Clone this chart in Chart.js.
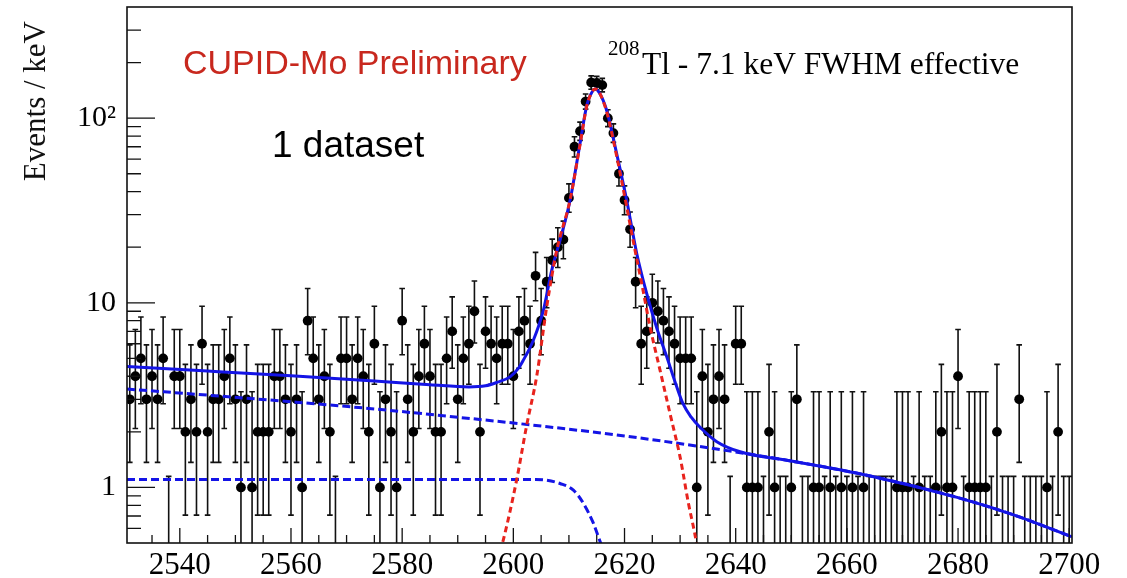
<!DOCTYPE html>
<html>
<head>
<meta charset="utf-8">
<script src="https://cdn.jsdelivr.net/npm/chart.js@4.4.1/dist/chart.umd.min.js"></script>
<style>
  html, body { margin: 0; padding: 0; background: #ffffff; }
  #wrap { width: 1127px; height: 578px; position: relative; }
  canvas { display: block; }
</style>
</head>
<body>
<div id="wrap"><canvas id="spectrum" width="1127" height="578"></canvas></div>
<script>
// 1 keV bins, centres 2531 ... 2700 keV
const firstBinCentre = 2531;

// Events per 1 keV bin
const counts = [
  3, 4, 5, 3, 4, 3, 5, 0, 4, 4,   2, 3, 2, 6, 2, 3, 3, 4, 5, 3,
  1, 3, 1, 2, 2, 2, 4, 4, 3, 2,   3, 1, 8, 5, 3, 4, 2, 0, 5, 5,
  3, 5, 4, 2,
  6, 1, 3, 2, 1, 8, 3, 2, 4, 6,   4, 2, 2, 5, 7, 3, 5, 6, 9, 2,
  7, 6, 5, 6, 6, 4, 7, 8, 6, 14,  8, 13, 17,
  20, 22, 37, 70, 85, 123, 156, 155, 151, 100, 83, 50, 36, 25, 13,
  6, 7, 10, 9, 8, 7, 6, 5, 5, 5,  1, 4, 2, 3, 4, 3, 0, 6, 6,
  1, 1, 1, 0, 2, 1, 0, 0, 1, 3,   0, 0, 1, 1, 0, 1, 0, 1, 0, 1,
  0, 1,
  0, 0, 0, 0, 0, 1, 1, 1, 0, 1,   0, 0, 1, 2, 1, 1, 4, 0, 1, 1,
  1, 1, 0, 2, 0, 0, 0, 3, 0, 0,   0, 0, 1, 0, 2, 0, 0
];

// Fit: total model (signal + background)
const totalE = [2530.5, 2545, 2560, 2575, 2585, 2592, 2595, 2597, 2599.4, 2601, 2601.8, 2603.6,
  2605.4, 2606.9, 2608.4, 2610.2, 2612, 2613.2, 2613.9, 2614.7, 2615.5, 2616.8, 2618.6, 2620.4,
  2622.2, 2624, 2625.8, 2627.6, 2629, 2630.5, 2632, 2633.5, 2636.6, 2640.8, 2650, 2665, 2680, 2690, 2700.5];
const totalY = [4.52, 4.27, 4.02, 3.77, 3.60, 3.50, 3.55, 3.70, 3.97, 4.45, 4.89, 6.27,
  9.1, 15, 21.8, 35.8, 73, 117, 134, 144, 137, 110, 64, 35.8,
  18.5, 11.2, 7.3, 5.1, 3.8, 2.85, 2.4, 2.13, 1.77, 1.56, 1.39, 1.14, 0.88, 0.71, 0.54];

// Fit: 208Tl photopeak component
const peakE = [2597.6, 2598.2, 2600.6, 2602.4, 2604.2, 2606, 2607.8, 2610.2, 2612, 2613.2, 2613.9,
  2614.7, 2615.5, 2616.8, 2618.6, 2620.4, 2621.9, 2623.1, 2624.6, 2626.4, 2628.2, 2630, 2631.5,
  2632.7, 2633.2];
const peakY = [0.45, 0.52, 1.1, 2.17, 4.0, 9.5, 19.2, 36, 72, 116, 134,
  144, 137, 108, 62, 33, 19.2, 12.7, 7.4, 4.3, 2.5, 1.46, 0.82,
  0.55, 0.45];

// Fit: linear continuum
const linearE = [2530.5, 2545, 2560, 2575, 2590, 2605, 2620, 2635, 2650, 2665, 2680, 2690, 2700.5];
const linearY = [3.41, 3.16, 2.91, 2.66, 2.40, 2.15, 1.90, 1.64, 1.39, 1.14, 0.88, 0.71, 0.54];

// Fit: step below the peak
const stepE = [2530.5, 2570, 2604, 2606, 2608.4, 2610.8, 2612.6, 2614.4, 2615.3, 2615.7, 2616.1];
const stepY = [1.105, 1.105, 1.105, 1.095, 1.05, 0.967, 0.82, 0.64, 0.54, 0.5, 0.46];

// Axis ticks
const xMajorTicks = [2540, 2560, 2580, 2600, 2620, 2640, 2660, 2680, 2700];
const xMinorTicks = [2535, 2545, 2550, 2555, 2565, 2570, 2575, 2585, 2590, 2595, 2605, 2610, 2615,
  2625, 2630, 2635, 2645, 2650, 2655, 2665, 2670, 2675, 2685, 2690, 2695];
const yMajorTicks = [1, 10, 100];
const yMajorLabels = ['1', '10', '10\u00B2'];
const yMinorTicks = [0.6, 0.7, 0.8, 0.9, 2, 3, 4, 5, 6, 7, 8, 9, 20, 30, 40, 50, 60, 70, 80, 90, 200, 300];

// Poisson (Garwood 68%) intervals for small counts; zero bins get a one-sided upper limit
const poissonLow  = [0, 0.173, 0.708, 1.367, 2.086, 2.840, 3.620, 4.418, 5.231, 6.055, 6.887];
const poissonHigh = [1.148, 3.300, 4.638, 5.918, 7.163, 8.382, 9.584, 10.771, 11.946, 13.112, 14.270];
function poissonInterval(n) {
  if (n < poissonLow.length) return [poissonLow[n], poissonHigh[n]];
  const s = Math.sqrt(n);
  return [n - s, n + s + 1];
}

const pairs = (xs, ys) => xs.map((v, i) => ({ x: v, y: ys[i] }));
const dataPoints = counts.map((n, i) => ({ x: firstBinCentre + i, y: n > 0 ? n : null }));

const SERIF = '"Liberation Serif", "DejaVu Serif", serif';
const SANS = '"Liberation Sans", Arial, sans-serif';
const Y_MIN = 0.5, Y_MAX = 400;
const DATA_INDEX = 4;

// Vertical error bars with end caps, drawn under the markers
const errorBars = {
  id: 'errorBars',
  beforeDatasetDraw(chart, args) {
    if (args.index !== DATA_INDEX) return;
    const { ctx, chartArea: a, scales: { x, y } } = chart;
    ctx.save();
    ctx.beginPath();
    ctx.rect(a.left, a.top, a.right - a.left, a.bottom - a.top);
    ctx.clip();
    ctx.strokeStyle = '#111';
    ctx.lineWidth = 1.6;
    const cap = 2.8;
    counts.forEach((n, i) => {
      const [lo, hi] = poissonInterval(n);
      const px = x.getPixelForValue(firstBinCentre + i);
      const yHi = y.getPixelForValue(hi);
      const yLo = lo >= Y_MIN ? y.getPixelForValue(lo) : a.bottom + 2;
      ctx.beginPath();
      ctx.moveTo(px, yLo);
      ctx.lineTo(px, yHi);
      ctx.moveTo(px - cap, yHi);
      ctx.lineTo(px + cap, yHi);
      if (lo >= Y_MIN) {
        ctx.moveTo(px - cap, yLo);
        ctx.lineTo(px + cap, yLo);
      }
      ctx.stroke();
    });
    ctx.restore();
  }
};

// Frame with inward-pointing tick marks
const frame = {
  id: 'frame',
  afterDraw(chart) {
    const { ctx, chartArea: a, scales: { x, y } } = chart;
    ctx.save();
    ctx.strokeStyle = '#111';
    ctx.lineWidth = 1.6;
    ctx.strokeRect(a.left, a.top, a.right - a.left, a.bottom - a.top);
    ctx.lineWidth = 1.3;
    ctx.beginPath();
    xMajorTicks.forEach(v => { const p = x.getPixelForValue(v); ctx.moveTo(p, a.bottom); ctx.lineTo(p, a.bottom - 15); });
    xMinorTicks.forEach(v => { const p = x.getPixelForValue(v); ctx.moveTo(p, a.bottom); ctx.lineTo(p, a.bottom - 8); });
    yMajorTicks.forEach(v => { const p = y.getPixelForValue(v); ctx.moveTo(a.left, p); ctx.lineTo(a.left + 28, p); });
    yMinorTicks.forEach(v => { const p = y.getPixelForValue(v); ctx.moveTo(a.left, p); ctx.lineTo(a.left + 14, p); });
    ctx.stroke();
    ctx.restore();
  }
};

// Labels and annotations
const annotations = {
  id: 'annotations',
  afterDraw(chart) {
    const { ctx } = chart;
    ctx.save();
    ctx.fillStyle = '#111';
    ctx.textBaseline = 'alphabetic';

    // y-axis title, reading upwards, aligned to the top of the axis
    ctx.save();
    ctx.translate(45, 21);
    ctx.rotate(-Math.PI / 2);
    ctx.font = '31px ' + SERIF;
    ctx.textAlign = 'right';
    ctx.fillText('Events / keV', 0, 0);
    ctx.restore();

    ctx.textAlign = 'left';
    ctx.fillStyle = '#c8281e';
    ctx.font = '34px ' + SANS;
    ctx.fillText('CUPID-Mo Preliminary', 183, 74);

    ctx.fillStyle = '#000';
    ctx.font = '37px ' + SANS;
    ctx.fillText('1 dataset', 272, 157);

    ctx.font = '21px ' + SERIF;
    ctx.fillText('208', 608, 55);
    ctx.font = '31.5px ' + SERIF;
    ctx.fillText('Tl - 7.1 keV FWHM effective', 642, 74);
    ctx.restore();
  }
};

const lineStyle = { showLine: true, pointRadius: 0, fill: false, cubicInterpolationMode: 'monotone' };

new Chart(document.getElementById('spectrum'), {
  type: 'scatter',
  data: {
    datasets: [
      { ...lineStyle, label: '208Tl peak', data: pairs(peakE, peakY),
        borderColor: '#e8231d', borderWidth: 3, borderDash: [6, 4], order: 0 },
      { ...lineStyle, label: 'Total fit', data: pairs(totalE, totalY),
        borderColor: '#1414e6', borderWidth: 3, order: 1 },
      { ...lineStyle, label: 'Linear background', data: pairs(linearE, linearY),
        borderColor: '#1414e6', borderWidth: 3, borderDash: [8, 4], order: 2 },
      { ...lineStyle, label: 'Step', data: pairs(stepE, stepY),
        borderColor: '#1414e6', borderWidth: 3, borderDash: [8, 4], order: 3 },
      { label: 'Data', data: dataPoints, showLine: false, pointRadius: 4.9, pointHoverRadius: 4.9,
        backgroundColor: '#000', borderWidth: 0, pointStyle: 'circle', order: 4 }
    ]
  },
  options: {
    responsive: false,
    animation: false,
    devicePixelRatio: 1,
    layout: { padding: { left: 0, right: 55, top: 7, bottom: 0 } },
    plugins: { legend: { display: false }, tooltip: { enabled: false } },
    scales: {
      x: {
        type: 'linear', min: 2530.5, max: 2700.5,
        afterBuildTicks: s => { s.ticks = xMajorTicks.map(v => ({ value: v })); },
        afterFit: s => { s.height = 35; s.paddingLeft = 0; s.paddingRight = 0; },
        ticks: { font: { family: SERIF, size: 31 }, color: '#000', padding: 4,
                 maxRotation: 0, autoSkip: false, callback: v => String(v) },
        grid: { display: false, drawTicks: false },
        border: { display: false }
      },
      y: {
        type: 'logarithmic', min: Y_MIN, max: Y_MAX,
        afterBuildTicks: s => { s.ticks = yMajorTicks.map(v => ({ value: v })); },
        afterFit: s => { s.width = 127; s.paddingTop = 0; s.paddingBottom = 0; },
        ticks: { font: { family: SERIF, size: 30 }, color: '#000', padding: 11, autoSkip: false,
                 callback: v => { const k = yMajorTicks.indexOf(v); return k >= 0 ? yMajorLabels[k] : ''; } },
        grid: { display: false, drawTicks: false },
        border: { display: false }
      }
    }
  },
  plugins: [errorBars, frame, annotations]
});
</script>
</body>
</html>
